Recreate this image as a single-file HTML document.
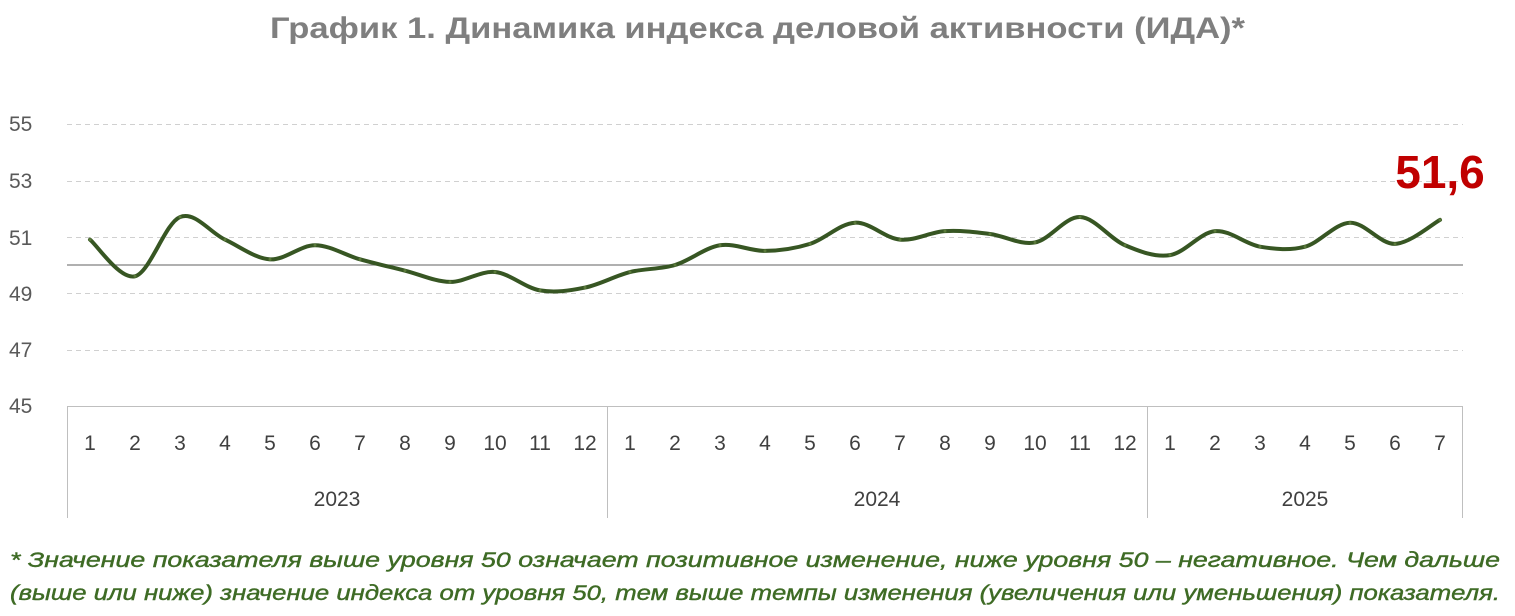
<!DOCTYPE html>
<html><head><meta charset="utf-8"><style>
html,body{margin:0;padding:0;background:#fff;width:1515px;height:616px;overflow:hidden}
</style></head><body>
<svg id="s" width="1515" height="616" xmlns="http://www.w3.org/2000/svg" font-family="Liberation Sans, sans-serif">
<text x="270" y="38" font-size="30" font-weight="bold" fill="#7f7f7f" textLength="975" lengthAdjust="spacingAndGlyphs">График 1. Динамика индекса деловой активности (ИДА)*</text>
<g stroke="#d0d0d0" stroke-width="1" stroke-dasharray="5,4">
<line x1="67" x2="1463" y1="124.5" y2="124.5"/>
<line x1="67" x2="1463" y1="181.5" y2="181.5"/>
<line x1="67" x2="1463" y1="237.5" y2="237.5"/>
<line x1="67" x2="1463" y1="293.5" y2="293.5"/>
<line x1="67" x2="1463" y1="350.5" y2="350.5"/>
</g>
<line x1="67" x2="1463" y1="406.5" y2="406.5" stroke="#bfbfbf"/>
<line x1="67" x2="1463" y1="265" y2="265" stroke="#808080" stroke-width="1.3"/>
<g font-size="21" fill="#595959">
<text x="9" y="131">55</text><text x="9" y="188">53</text><text x="9" y="245">51</text>
<text x="9" y="301">49</text><text x="9" y="357">47</text><text x="9" y="413">45</text>
</g>
<g stroke="#bfbfbf" stroke-width="1">
<line x1="67.5" x2="67.5" y1="406" y2="518"/>
<line x1="607.5" x2="607.5" y1="406" y2="518"/>
<line x1="1147.5" x2="1147.5" y1="406" y2="518"/>
<line x1="1462.5" x2="1462.5" y1="406" y2="518"/>
</g>
<g id="lab" font-size="21" fill="#404040" text-anchor="middle"></g>
<g font-size="21" fill="#404040" text-anchor="middle">
<text x="337" y="506">2023</text><text x="877" y="506">2024</text><text x="1305" y="506">2025</text>
</g>
<path id="p" fill="none" stroke="#375623" stroke-width="4" stroke-linecap="round"/>
<g id="dots" fill="#5a7a3a"></g>
<text x="1440" y="188" text-anchor="middle" font-size="46" font-weight="bold" fill="#c00000">51,6</text>
<g font-size="21" font-style="italic" fill="#3e6b25" stroke="#3e6b25" stroke-width="0.4">
<text x="10" y="567" textLength="1490" lengthAdjust="spacingAndGlyphs">* Значение показателя выше уровня 50 означает позитивное изменение, ниже уровня 50 – негативное. Чем дальше</text>
<text x="10" y="600" textLength="1490" lengthAdjust="spacingAndGlyphs">(выше или ниже) значение индекса от уровня 50, тем выше темпы изменения (увеличения или уменьшения) показателя.</text>
</g>
</svg>
<script>
var v=[50.9,49.6,51.7,50.9,50.2,50.7,50.2,49.8,49.4,49.75,49.1,49.2,49.75,50.0,50.7,50.5,50.75,51.5,50.9,51.2,51.1,50.8,51.7,50.7,50.35,51.2,50.65,50.65,51.5,50.75,51.6];
var m=[1,2,3,4,5,6,7,8,9,10,11,12,1,2,3,4,5,6,7,8,9,10,11,12,1,2,3,4,5,6,7];
var P=v.map(function(a,i){return [90+45*i,265-(a-50)*28.2]});
var d="M"+P[0][0]+","+P[0][1];
for(var i=0;i<P.length-1;i++){var p0=P[i-1]||P[i],p1=P[i],p2=P[i+1],p3=P[i+2]||p2;
var c1=[p1[0]+(p2[0]-p0[0])/6,p1[1]+(p2[1]-p0[1])/6],c2=[p2[0]-(p3[0]-p1[0])/6,p2[1]-(p3[1]-p1[1])/6];
d+=" C"+c1+" "+c2+" "+p2;}
document.getElementById("p").setAttribute("d",d);
var g=document.getElementById("lab"),h="";
for(var i=0;i<31;i++)h+='<text x="'+(90+45*i)+'" y="450">'+m[i]+'</text>';
g.innerHTML=h;
var dh="";P.forEach(function(p){dh+='<circle cx="'+p[0]+'" cy="'+p[1]+'" r="1.5"/>';});
document.getElementById("dots").innerHTML=dh;
</script>
</body></html>
